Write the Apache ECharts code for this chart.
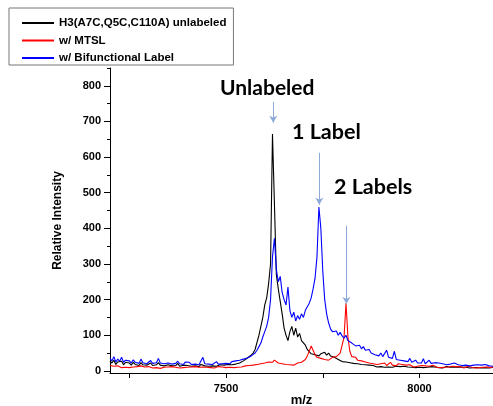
<!DOCTYPE html>
<html>
<head>
<meta charset="utf-8">
<script src="https://cdn.jsdelivr.net/npm/echarts@6/dist/echarts.min.js"></script>
<style>
html,body{margin:0;padding:0;background:#fff;}
#chart{width:493px;height:406px;}
</style>
</head>
<body>
<div id="chart"></div>
<script>
// m/z sampling grid: 7200 .. 8190, step 5
const mzStart = 7200;
const mzStep = 5;

const seriesNames = ['H3(A7C,Q5C,C110A) unlabeled', 'w/ MTSL', 'w/ Bifunctional Label'];

const unlabeled = [
  28,22,30,18,25,20,27,17,24,19,
  22,16,24,18,21,15,23,17,20,16,
  19,22,15,20,17,23,16,19,14,18,
  17,20,14,18,15,21,13,17,16,19,
  15,18,13,17,14,16,12,18,15,14,
  17,13,16,14,18,13,15,17,14,16,
  15,18,14,17,16,19,18,22,25,28,
  30,36,40,44,50,60,80,100,125,150,
  185,205,245,300,665,470,270,230,195,160,
  120,100,85,110,125,100,120,95,105,85,
  80,72,60,55,48,52,45,50,42,48,
  48,52,44,50,42,46,38,35,32,28,
  26,22,25,20,23,18,21,17,20,16,
  18,14,17,13,16,12,15,14,11,15,
  12,14,10,13,11,14,10,12,13,10,
  12,10,13,9,11,12,10,13,9,11,
  10,12,9,11,10,8,12,9,11,10,
  9,11,8,10,12,9,10,8,11,9,
  10,8,11,9,10,12,8,10,9,11,
  9,10,8,11,9,10,8,9,10
];

const mtsl = [
  15,10,13,8,14,11,9,13,10,12,
  9,13,11,8,12,10,14,9,11,8,
  12,10,8,13,9,11,7,12,10,9,
  11,8,12,9,10,13,8,11,9,12,
  10,8,11,9,12,8,10,9,11,8,
  10,12,9,11,8,10,12,9,11,10,
  9,11,10,12,9,11,10,13,11,12,
  14,12,15,13,16,14,18,15,20,17,
  22,19,25,28,24,30,26,22,27,20,
  23,18,21,17,20,16,19,22,18,24,
  25,32,42,55,70,58,45,38,42,35,
  38,32,36,30,34,38,35,40,45,50,
  55,95,190,95,55,40,35,38,30,33,
  28,32,25,30,22,27,20,25,18,23,
  20,17,22,15,19,24,16,18,14,20,
  15,18,13,16,12,17,14,11,15,13,
  12,15,11,14,10,13,12,16,11,10,
  13,9,12,10,14,11,9,13,10,12,
  9,12,10,8,11,13,9,10,12,8,
  11,9,12,10,8,11,10,9,12
];

const bifunctional = [
  35,28,40,25,33,27,38,24,30,26,
  28,22,31,24,27,21,33,23,26,20,
  25,29,21,26,23,35,22,27,20,24,
  22,26,19,24,21,27,20,23,18,25,
  20,24,18,22,19,23,17,21,38,20,
  22,19,24,18,21,26,19,23,20,22,
  21,25,20,26,22,28,25,30,28,33,
  32,36,38,42,46,50,58,68,78,95,
  110,125,150,200,320,372,285,250,265,220,
  200,185,235,170,150,165,140,155,145,160,
  150,170,165,190,205,230,260,320,460,400,
  280,200,160,135,118,110,105,112,100,108,
  98,92,100,85,90,78,82,70,65,72,
  62,68,58,55,60,50,52,45,48,42,
  50,40,45,58,38,42,35,55,32,36,
  30,34,28,32,26,35,24,28,30,22,
  26,22,34,20,24,30,21,19,23,18,
  22,18,20,25,17,21,19,16,22,18,
  17,20,15,19,16,21,14,18,16,15,
  17,14,16,13,18,15,14,16,13
];

// annotation arrows [m/z, from intensity, to intensity]
const arrows = [
  [7622, 755, 696],
  [7741, 612, 466],
  [7811, 407, 188]
];
const annoTexts = ['Unlabeled', '1 Label', '2 Labels'];

const yMajor = [0,100,200,300,400,500,600,700,800];
const yMinor = [50,150,250,350,450,550,650,750,850];
const xTicks = [7250,7500,7750,8000];
const xLabels = [7500,8000];

function toPairs(vals){ return vals.map((v,i)=>[mzStart + mzStep*i, v]); }

const chart = echarts.init(document.getElementById('chart'));
const axisFont = {fontFamily:'Liberation Sans, Arial, sans-serif', fontWeight:'bold', color:'#000'};

chart.setOption({
  animation:false,
  backgroundColor:'#fff',
  grid:{left:110, right:0, top:68, bottom:33, containLabel:false, outerBoundsMode:'none'},
  legend:{
    orient:'vertical', left:9, top:8,
    padding:[9,7,1,12],
    itemWidth:32, itemHeight:12, itemGap:5.5,
    borderColor:'#777', borderWidth:1,
    itemStyle:{opacity:0},
    textStyle:{fontFamily:'Liberation Sans, Arial, sans-serif', fontWeight:'bold', fontSize:11.5, color:'#000'},
    data:seriesNames
  },
  xAxis:{
    type:'value', min:7200, max:8190,
    name:'m/z', nameLocation:'middle', nameGap:21, nameMoveOverlap:false,
    nameTextStyle:Object.assign({fontSize:13}, axisFont),
    axisLine:{show:true, onZero:false, lineStyle:{color:'#000', width:1}},
    axisTick:{show:true, length:5, customValues:xTicks, lineStyle:{color:'#000'}},
    axisLabel:Object.assign({fontSize:11, margin:10, customValues:xLabels, formatter:function(v){return String(v);}}, axisFont),
    splitLine:{show:false}
  },
  yAxis:[{
    type:'value', min:-6, max:850,
    name:'Relative Intensity', nameLocation:'middle', nameGap:46, nameRotate:90, nameMoveOverlap:false,
    nameTextStyle:Object.assign({fontSize:12}, axisFont),
    axisLine:{show:true, lineStyle:{color:'#000', width:1}},
    axisTick:{show:true, length:6, customValues:yMajor, lineStyle:{color:'#000'}},
    axisLabel:Object.assign({fontSize:11, margin:9, customValues:yMajor}, axisFont),
    splitLine:{show:false}
  },{
    type:'value', min:-6, max:850, position:'left',
    axisLine:{show:false},
    axisTick:{show:true, length:3, customValues:yMinor, lineStyle:{color:'#000'}},
    axisLabel:{show:false},
    splitLine:{show:false}
  }],
  series:[
    {name:seriesNames[0], type:'line', symbol:'none', data:toPairs(unlabeled), lineStyle:{color:'#000', width:1.1}, itemStyle:{color:'#000'}},
    {name:seriesNames[1], type:'line', symbol:'none', data:toPairs(mtsl), lineStyle:{color:'#ff0000', width:1.1}, itemStyle:{color:'#ff0000'}},
    {name:seriesNames[2], type:'line', symbol:'none', data:toPairs(bifunctional), lineStyle:{color:'#0000ff', width:1.1}, itemStyle:{color:'#0000ff'},
     markLine:{
       silent:true, symbol:['none','arrow'], symbolSize:[6,7],
       label:{show:false},
       lineStyle:{color:'#8eaadb', width:1, type:'solid'},
       data:arrows.map(a=>[{coord:[a[0],a[1]]},{coord:[a[0],a[2]]}])
     }}
  ],
  graphic:[
    {type:'text', left:220, top:78, style:{text:annoTexts[0], font:'bold 21px Lato, "Open Sans", sans-serif', fill:'#000'}},
    {type:'text', left:292, top:121, style:{text:annoTexts[1], font:'bold 21.5px Lato, "Open Sans", sans-serif', fill:'#000'}},
    {type:'text', left:334, top:176, style:{text:annoTexts[2], font:'bold 21.5px Lato, "Open Sans", sans-serif', fill:'#000'}}
  ]
});
</script>
</body>
</html>
